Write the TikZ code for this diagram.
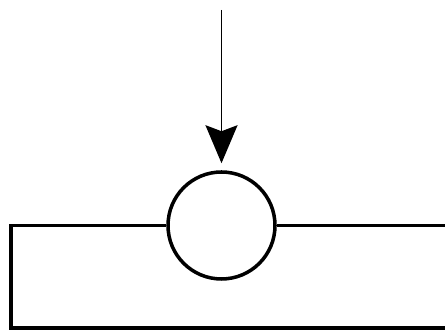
\documentclass[tikz,border=0pt]{standalone}
\usetikzlibrary{arrows.meta}
\begin{document}
\begin{tikzpicture}[
  junction/.style={circle, draw, line width=2pt, fill=white, minimum size=2.14cm, inner sep=0pt},
  wire/.style={line width=2pt},
  arrow/.style={-{Stealth[length=0.76cm, width=0.64cm, inset=0.12cm]}, line width=1pt, shorten >=1.4mm}
]
  \useasboundingbox (0,0) rectangle (8.9,6.62);

  \node[junction] (sum) at (4.43,2.11) {};

  \coordinate (in) at (4.43,6.42);
  \coordinate (lt) at (0.22,2.11);
  \coordinate (lb) at (0.22,0.06);
  \coordinate (rb) at (9.0,0.06);
  \coordinate (rt) at (9.0,2.11);

  \draw[arrow] (in) -- (sum);
  \draw[wire] (sum.west) -- (lt) -- (lb) -- (rb);
  \draw[wire] (sum.east) -- (rt);
\end{tikzpicture}
\end{document}
